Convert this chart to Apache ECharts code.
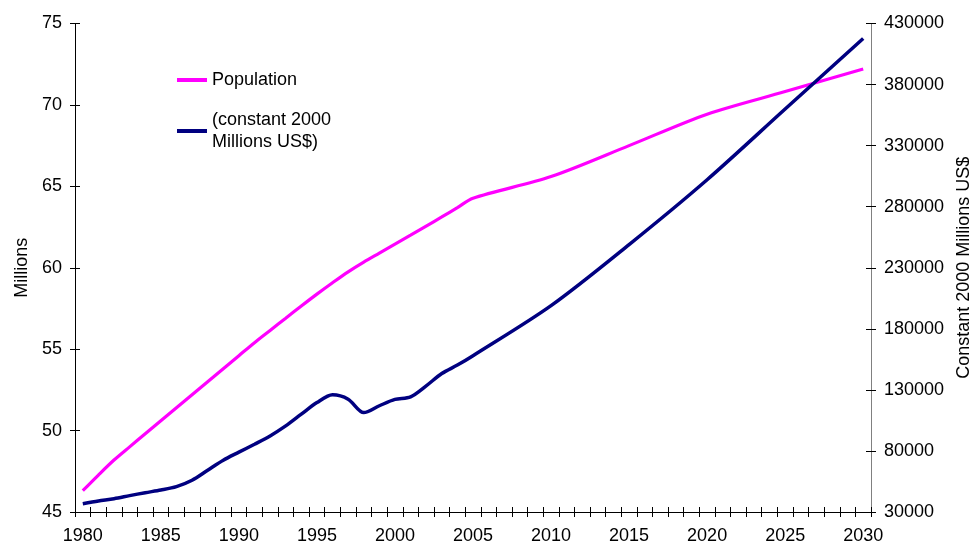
<!DOCTYPE html>
<html>
<head>
<meta charset="utf-8">
<script src="https://cdn.jsdelivr.net/npm/echarts@6/dist/echarts.min.js"></script>
<style>
  html, body { margin: 0; padding: 0; background: #fff; }
  #chart { width: 969px; height: 549px; }
</style>
</head>
<body>
<div id="chart"></div>
<script>
// Years on the category axis (one category per year)
const years = [
  '1980','1981','1982','1983','1984','1985','1986','1987','1988','1989',
  '1990','1991','1992','1993','1994','1995','1996','1997','1998','1999',
  '2000','2001','2002','2003','2004','2005','2006','2007','2008','2009',
  '2010','2011','2012','2013','2014','2015','2016','2017','2018','2019',
  '2020','2021','2022','2023','2024','2025','2026','2027','2028','2029',
  '2030'
];

// Population, millions (annual to 2005, then five-yearly projections)
const population = [
  46.31, 47.27, 48.19, 49.00, 49.80, 50.60, 51.40, 52.20, 53.00, 53.80,
  54.60, 55.40, 56.15, 56.90, 57.65, 58.38, 59.08, 59.75, 60.35, 60.90,
  61.45, 62.00, 62.56, 63.12, 63.69, 64.27, null, null, null, null,
  65.60, null, null, null, null, 67.50, null, null, null, null,
  69.43, null, null, null, null, 70.82, null, null, null, null,
  72.21
];

// GDP, constant 2000 millions US$
const gdp = [
  36800, 39000, 40900, 43400, 45800, 48000, 50800, 56000, 64200, 72400,
  79000, 85500, 92300, 100500, 110100, 119600, 126000, 122400, 111400, 117000,
  122200, 124300, 133300, 143400, 150300, 158000, null, null, null, null,
  199000, null, null, null, null, 249000, null, null, null, null,
  302100, null, null, null, null, 360000, null, null, null, null,
  417700
];

// Axis ranges and steps
const leftAxis = { min: 45, max: 75, step: 5 };
const rightAxis = { min: 30000, max: 430000, step: 50000 };

const seriesNames = ['Population', '(constant 2000\nMillions US$)'];
const axisNames = ['Millions', 'Constant 2000 Millions US$'];

const FONT = "'Liberation Sans', Arial, sans-serif";
const txt = { fontFamily: FONT, fontSize: 18, color: '#000' };

const chart = echarts.init(document.getElementById('chart'), null, { renderer: 'canvas' });

// Ticks that cross the axis line: an outside-tick axis plus an inside-tick twin
function yAxisPair(cfg, side, name, lineColor, nameGap) {
  return [
    {
      type: 'value', position: side, min: cfg.min, max: cfg.max, interval: cfg.step,
      name: name, nameLocation: 'middle', nameRotate: 90, nameGap: nameGap,
      nameTextStyle: Object.assign({}, txt),
      axisLine: { show: true, onZero: false, lineStyle: { color: lineColor, width: 1 } },
      axisTick: { show: true, length: 5, lineStyle: { color: '#000', width: 1 } },
      axisLabel: Object.assign({ margin: 13, formatter: function (v) { return String(v); } }, txt),
      splitLine: { show: false }
    },
    {
      type: 'value', position: side, min: cfg.min, max: cfg.max, interval: cfg.step,
      axisLine: { show: false },
      axisTick: { show: true, inside: true, length: 5, lineStyle: { color: '#000', width: 1 } },
      axisLabel: { show: false },
      splitLine: { show: false }
    }
  ];
}

const leftPair = yAxisPair(leftAxis, 'left', axisNames[0], '#000', 44);
const rightPair = yAxisPair(rightAxis, 'right', axisNames[1], '#808080', 66);

const option = {
  animation: false,
  backgroundColor: '#fff',
  textStyle: { fontFamily: FONT },
  grid: { left: 75, right: 98, top: 23.5, bottom: 37, containLabel: false, outerBoundsMode: 'none' },
  legend: [
    {
      data: [seriesNames[0]], left: 177, top: 69, padding: 0,
      icon: 'rect', itemWidth: 30, itemHeight: 4,
      textStyle: Object.assign({ lineHeight: 22 }, txt)
    },
    {
      data: [seriesNames[1]], left: 177, top: 98, padding: 0,
      icon: 'rect', itemWidth: 30, itemHeight: 4,
      textStyle: Object.assign({ lineHeight: 22, padding: [22, 0, 0, 0] }, txt)
    }
  ],
  xAxis: [
    {
      type: 'category', data: years, boundaryGap: true, position: 'bottom',
      axisLine: { show: true, onZero: false, lineStyle: { color: '#000', width: 1 } },
      axisTick: { show: true, interval: 0, length: 5, lineStyle: { color: '#000' } },
      axisLabel: Object.assign({ interval: 4, margin: 15 }, txt),
      splitLine: { show: false }
    },
    {
      type: 'category', data: years, boundaryGap: true, position: 'bottom',
      axisLine: { show: false, onZero: false },
      axisTick: { show: true, inside: true, interval: 0, length: 5, lineStyle: { color: '#000' } },
      axisLabel: { show: false },
      splitLine: { show: false }
    }
  ],
  yAxis: [leftPair[0], rightPair[0], leftPair[1], rightPair[1]],
  series: [
    {
      name: seriesNames[0], type: 'line', data: population,
      xAxisIndex: 0, yAxisIndex: 0,
      connectNulls: true, smooth: 0.3, showSymbol: false, symbol: 'none',
      color: '#FF00FF',
      lineStyle: { color: '#FF00FF', width: 3.2 }
    },
    {
      name: seriesNames[1], type: 'line', data: gdp,
      xAxisIndex: 0, yAxisIndex: 1,
      connectNulls: true, smooth: 0.3, showSymbol: false, symbol: 'none',
      color: '#000080',
      lineStyle: { color: '#000080', width: 3.5 }
    }
  ]
};

chart.setOption(option);
</script>
</body>
</html>
